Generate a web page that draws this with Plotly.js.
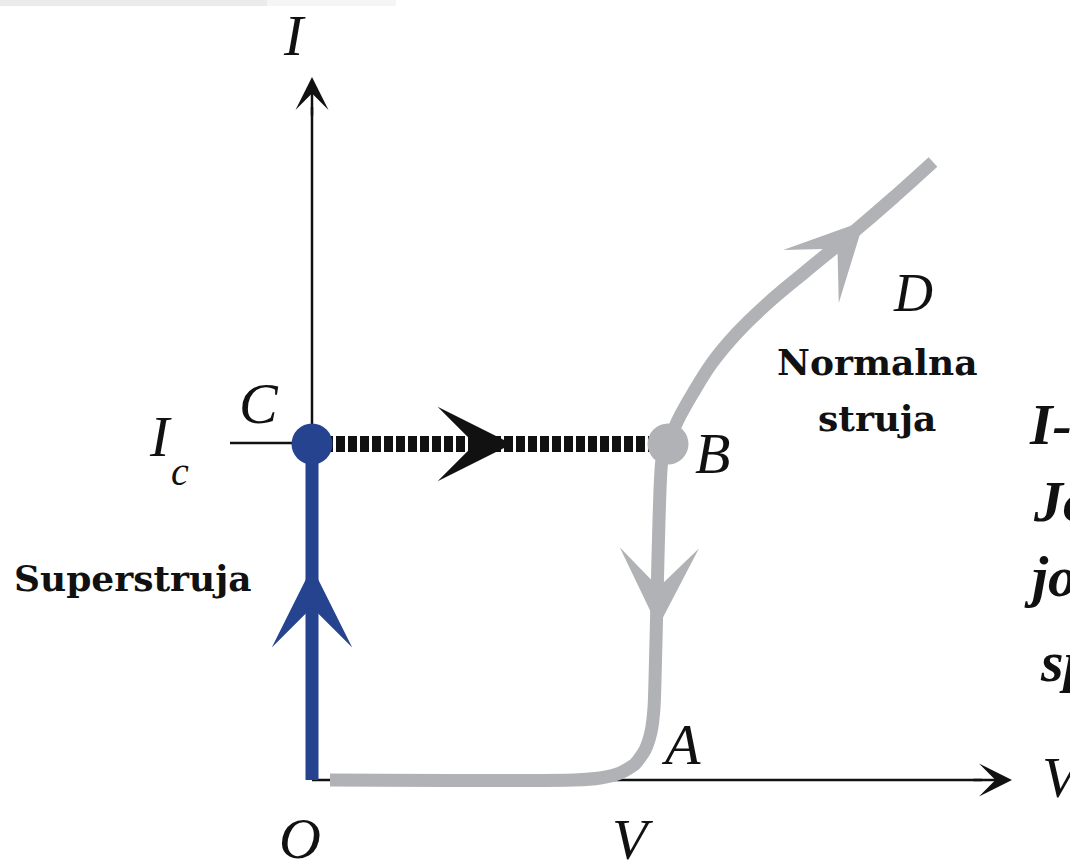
<!DOCTYPE html>
<html>
<head>
<meta charset="utf-8">
<script src="https://cdn.plot.ly/plotly-3.0.1.min.js"></script>
<style>
  html, body { margin: 0; padding: 0; background: #fff; }
  #chart { width: 1070px; height: 863px; }
</style>
</head>
<body>
<div id="chart"></div>
<script>
// units: V to the right of O, I up from O
const Ic = 336;
const superV = [0, 0];
const superI = [0, Ic];
const jumpV = [0, 356];
const jumpI = [Ic, Ic];
const backV = [356, 350, 347, 345, 343, 342, 339, 333, 323, 308, 288, 262, 18];
const backI = [Ic, 320, 260, 180, 100, 72, 48, 30, 16, 7, 2, 0, 0];
const normV = [356, 366, 381, 400, 425, 456, 493, 538, 581, 621];
const normI = [Ic, 360, 387, 417, 447, 477, 508, 545, 582, 618];
const pointV = [0, 356];
const pointI = [Ic, Ic];

// direction arrows: tip and a point just behind it on the branch
const headTipV = [0, 200, 346, 552];
const headTipI = [213, Ic, 153, 559];
const headFromV = [0, 170, 346.5, 531];
const headFromI = [183, Ic, 183, 537];
const headSize = [6.7, 6.2, 6.6, 6.4];

const axisEndV = 700;
const axisEndI = 703;
const tickStartV = -82;

const blue = "#26438f";
const grey = "#b1b2b5";
const ink = "#111111";

const serifIt = { family: "Liberation Serif, Times New Roman, serif", size: 58, color: ink, style: "italic" };

const traces = [
  { x: [0, 0], y: [0, axisEndI - 30], mode: "lines", line: { color: ink, width: 2.5 } },
  { x: [0, axisEndV - 30], y: [0, 0], mode: "lines", line: { color: ink, width: 2.5 } },
  { x: [tickStartV, 0], y: [Ic + 1, Ic + 1], mode: "lines", line: { color: ink, width: 2.5 } },
  { x: jumpV, y: jumpI, mode: "lines", line: { color: ink, width: 16, dash: "9px,3px" } },
  { x: backV, y: backI, mode: "lines", line: { color: grey, width: 13, shape: "spline", smoothing: 0.6 } },
  { x: normV, y: normI, mode: "lines", line: { color: grey, width: 13, shape: "spline", smoothing: 1 } },
  { x: superV, y: superI, mode: "lines", line: { color: blue, width: 13 } },
  { x: pointV, y: pointI, mode: "markers", marker: { size: 41, color: [blue, grey] } }
];

const headColors = [blue, ink, grey, grey];
const annotations = headTipV.map((v, i) => ({
  x: v, y: headTipI[i], ax: headFromV[i], ay: headFromI[i],
  xref: "x", yref: "y", axref: "x", ayref: "y",
  text: "", showarrow: true, arrowhead: 3, arrowwidth: 2,
  arrowsize: headSize[i], arrowcolor: headColors[i], standoff: 0
}));

// axis arrowheads
annotations.push(
  { x: 0, y: axisEndI, ax: 0, ay: axisEndI - 40, xref: "x", yref: "y", axref: "x", ayref: "y",
    text: "", showarrow: true, arrowhead: 3, arrowwidth: 2.5, arrowsize: 2.2, arrowcolor: ink, standoff: 0 },
  { x: axisEndV, y: 0, ax: axisEndV - 40, ay: 0, xref: "x", yref: "y", axref: "x", ayref: "y",
    text: "", showarrow: true, arrowhead: 3, arrowwidth: 2.5, arrowsize: 2.2, arrowcolor: ink, standoff: 0 }
);

const labels = [
  ["I", -18, 745, 58],
  ["C", -53, 377, 58],
  ["I", -152, 344, 58],
  ["c", -132, 309, 40],
  ["O", -12, -58, 58],
  ["V", 321, -59, 58],
  ["A", 369, 36, 58],
  ["B", 400, 327, 58],
  ["D", 601, 487, 54]
];
labels.forEach(([t, v, i, s]) => annotations.push({
  x: v, y: i, xref: "x", yref: "y", text: t, showarrow: false,
  xanchor: "center", yanchor: "middle", font: Object.assign({}, serifIt, { size: s })
}));

annotations.push({ x: 728, y: 3, xref: "x", yref: "y", text: "V", showarrow: false,
  xanchor: "left", yanchor: "middle", font: serifIt });

const plainSerif = { family: "DejaVu Serif, serif", size: 36, color: ink, weight: "bold" };
[["Normalna", 565, 418], ["struja", 565, 362], ["Superstruja", -179, 202]].forEach(([t, v, i]) =>
  annotations.push({ x: v, y: i, xref: "x", yref: "y", text: t, showarrow: false,
    xanchor: "center", yanchor: "middle", font: plainSerif }));

// caption cut by the right edge of the picture
const boldIt = { family: "Liberation Serif, serif", size: 58, color: ink, style: "italic", weight: "bold" };
[["I-", 715, 356], ["Jo", 719, 279], ["jo", 710, 204], ["sp", 726, 119]].forEach(([t, v, i]) =>
  annotations.push({ x: v, y: i, xref: "x", yref: "y", text: t, showarrow: false,
    xanchor: "left", yanchor: "middle", font: boldIt }));

Plotly.newPlot("chart", traces, {
  width: 1070,
  height: 863,
  margin: { t: 0, r: 0, b: 0, l: 0 },
  paper_bgcolor: "#fff",
  plot_bgcolor: "#fff",
  showlegend: false,
  xaxis: { range: [-312, 758], visible: false, fixedrange: true },
  yaxis: { range: [-83, 780], visible: false, fixedrange: true },
  shapes: [
    { type: "rect", xref: "paper", yref: "paper", x0: 0, x1: 0.25, y0: 0.993, y1: 1,
      fillcolor: "#ebebeb", line: { width: 0 }, layer: "below" },
    { type: "rect", xref: "paper", yref: "paper", x0: 0.25, x1: 0.37, y0: 0.993, y1: 1,
      fillcolor: "#f5f5f5", line: { width: 0 }, layer: "below" }
  ],
  annotations: annotations
}, { displayModeBar: false, staticPlot: true });
</script>
</body>
</html>
